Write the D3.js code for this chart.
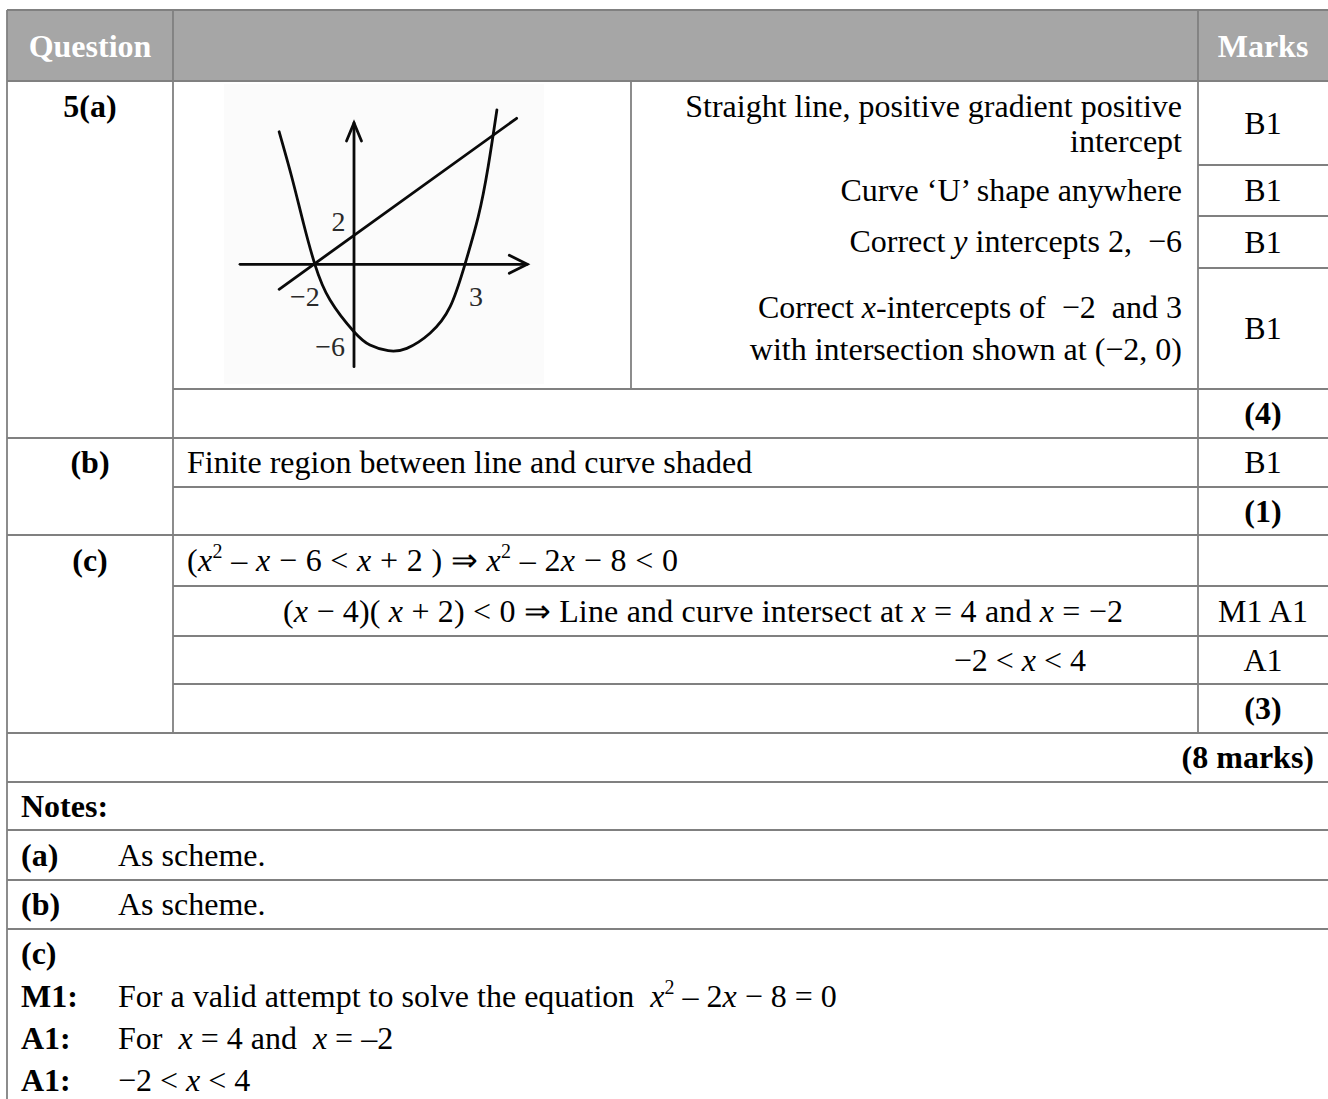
<!DOCTYPE html>
<html>
<head>
<meta charset="utf-8">
<script src="https://cdn.jsdelivr.net/npm/d3@7"></script>
<style>
  html, body { margin: 0; padding: 0; background: #fff; }
  svg text { white-space: pre; }
</style>
</head>
<body>
<svg id="chart"></svg>
<script>
var headers = ["Question", "Marks"];
var questionLabels = ["5(a)", "(b)", "(c)"];
var marksA = ["B1", "B1", "B1", "B1", "(4)"];
var marksB = ["B1", "(1)"];
var marksC = ["", "M1 A1", "A1", "(3)"];
var totalLabel = "(8 marks)";

// scheme lines, segments: [text, italic?, superscript?]
var schemeA = [
  [[["Straight line, positive gradient positive"]], [["intercept"]]],
  [[["Curve \u2018U\u2019 shape anywhere"]]],
  [[["Correct "], ["y", 1], [" intercepts 2,  \u22126"]]],
  [[["Correct "], ["x", 1], ["-intercepts of  \u22122  and 3"]], [["with intersection shown at (\u22122, 0)"]]]
];
var schemeB = [["Finite region between line and curve shaded"]];
var schemeC = [
  [["("], ["x", 1], ["2", 0, 1], [" \u2013 "], ["x", 1], [" \u2212 6 < "], ["x", 1], [" + 2 ) \u21d2 "], ["x", 1], ["2", 0, 1], [" \u2013 2"], ["x", 1], [" \u2212 8 < 0"]],
  [["("], ["x", 1], [" \u2212 4)( "], ["x", 1], [" + 2) < 0 \u21d2 Line and curve intersect at "], ["x", 1], [" = 4 and "], ["x", 1], [" = \u22122"]],
  [["\u22122 < "], ["x", 1], [" < 4"]]
];
var noteTags = ["(a)", "(b)"];
var noteTexts = ["As scheme.", "As scheme."];
var noteCTags = ["M1:", "A1:", "A1:"];
var noteCTexts = [
  [["For a valid attempt to solve the equation  "], ["x", 1], ["2", 0, 1], [" \u2013 2"], ["x", 1], [" \u2212 8 = 0"]],
  [["For  "], ["x", 1], [" = 4 and  "], ["x", 1], [" = \u20132"]],
  [["\u22122 < "], ["x", 1], [" < 4"]]
];

// sketch of y = x^2 - x - 6 and y = x + 2 (sketch units, not to scale)
var curveX = [-1.97, -1.64, -1.33, -1.03, -0.63, 0, 0.42, 0.9, 1.39, 2.0, 2.53, 2.92, 3.27, 3.53, 3.76];
var curveY = [12.05, 7.96, 3.73, 0, -3.25, -6.13, -7.34, -7.85, -7.64, -6.27, -3.85, 0, 4.33, 8.87, 14.03];
var lineX = [-1.97, 4.28];
var lineY = [-2.27, 13.27];
var axisXExtent = [-3.0, 4.56];
var axisYExtent = [-9.31, 12.85];
var sketchLabels = ["2", "\u22122", "3", "\u22126"];
var sketchLabelX = [-0.41, -1.29, 3.21, -0.63];
var sketchLabelY = [3.87, -2.95, -2.95, -7.43];

// ---- layout ----
var width = 1328, height = 1099;
var FONT = "'Liberation Serif', 'Times New Roman', serif";
var FS = 32;
var GRID = "#808080";
var L = 7, C1 = 173, C2 = 631, C3 = 1198, R = 1330;
var colQ = (L + C1) / 2, colM = (C3 + 1328) / 2;
var padL = 21;

var svg = d3.select("#chart").attr("width", width).attr("height", height)
  .style("font-family", FONT).style("font-size", FS + "px");

// row boundaries
var yTop = 10, yHead = 81;
var yA = [81, 165, 216, 268, 389, 438];
var yB = [438, 487, 535];
var yC = [535, 586, 636, 684, 733];
var yNotes = [733, 782, 830, 880, 929];

function mid(a, b) { return (a + b) / 2 + FS * 0.33; }

// header
svg.append("rect").attr("x", L).attr("y", yTop).attr("width", R - L).attr("height", yHead - yTop)
  .attr("fill", "#a6a6a6");

// faint background of the pasted sketch
svg.append("rect").attr("x", 224).attr("y", 84).attr("width", 320).attr("height", 300)
  .attr("fill", "#fbfbfb");

// grid lines
var hLines = [
  [yTop, L, R], [yHead, L, R],
  [165, C3, R], [216, C3, R], [268, C3, R],
  [389, C1, R], [438, L, R], [487, C1, R], [535, L, R],
  [586, C1, R], [636, C1, R], [684, C1, R], [733, L, R],
  [782, L, R], [830, L, R], [880, L, R], [929, L, R]
];
var vLines = [[L, yTop, height], [C1, yTop, 733], [C3, yTop, 733], [C2, yHead, 389]];
var grid = svg.append("g").attr("stroke", GRID).attr("stroke-width", 1.8);
grid.selectAll("line.h").data(hLines).enter().append("line").attr("class", "h")
  .attr("x1", d => d[1]).attr("x2", d => d[2]).attr("y1", d => d[0]).attr("y2", d => d[0]);
grid.selectAll("line.v").data(vLines).enter().append("line").attr("class", "v")
  .attr("x1", d => d[0]).attr("x2", d => d[0]).attr("y1", d => d[1]).attr("y2", d => d[2]);

// header labels
svg.selectAll("text.head").data(headers).enter().append("text").attr("class", "head")
  .attr("x", (d, i) => i === 0 ? colQ : colM).attr("y", 57)
  .attr("text-anchor", "middle").attr("fill", "#fff").attr("font-weight", "bold").text(d => d);

// rich text helper
function rich(sel, segs) {
  var up = false;
  segs.forEach(function(s) {
    var t = sel.append("tspan").text(s[0]);
    if (s[1]) t.attr("font-style", "italic");
    if (s[2]) { t.attr("dy", -13).attr("font-size", 20); up = true; }
    else if (up) { t.attr("dy", 13); up = false; }
  });
  return sel;
}

// question column
var qY = [117, mid(yB[0], yB[1]), mid(yC[0], yC[1])];
svg.selectAll("text.q").data(questionLabels).enter().append("text").attr("class", "q")
  .attr("x", colQ).attr("y", (d, i) => qY[i]).attr("text-anchor", "middle")
  .attr("font-weight", "bold").text(d => d);

// marks column
var marks = [];
marksA.forEach((m, i) => marks.push({ t: m, y: mid(yA[i], yA[i + 1]) }));
marksB.forEach((m, i) => marks.push({ t: m, y: mid(yB[i], yB[i + 1]) }));
marksC.forEach((m, i) => marks.push({ t: m, y: mid(yC[i], yC[i + 1]) }));
svg.selectAll("text.mk").data(marks).enter().append("text").attr("class", "mk")
  .attr("x", colM).attr("y", d => d.y).attr("text-anchor", "middle")
  .attr("font-weight", d => d.t.charAt(0) === "(" ? "bold" : "normal").text(d => d.t);

// part (a) scheme text, right aligned
var aBase = [[117, 152], [201], [252], [318, 360]];
schemeA.forEach(function(lines, i) {
  lines.forEach(function(segs, j) {
    rich(svg.append("text").attr("x", 1182).attr("y", aBase[i][j]).attr("text-anchor", "end"), segs);
  });
});

// part (b)
rich(svg.append("text").attr("x", 187).attr("y", mid(yB[0], yB[1])), schemeB);

// part (c)
rich(svg.append("text").attr("x", 187).attr("y", mid(yC[0], yC[1]))
  .attr("textLength", 491).attr("lengthAdjust", "spacing"), schemeC[0]);
rich(svg.append("text").attr("x", 283).attr("y", mid(yC[1], yC[2]))
  .attr("textLength", 840).attr("lengthAdjust", "spacing"), schemeC[1]);
rich(svg.append("text").attr("x", 1086).attr("y", mid(yC[2], yC[3])).attr("text-anchor", "end"), schemeC[2]);

// total
svg.append("text").attr("x", 1314).attr("y", mid(yNotes[0], yNotes[1])).attr("text-anchor", "end")
  .attr("font-weight", "bold").text(totalLabel);

// notes
svg.append("text").attr("x", padL).attr("y", mid(yNotes[1], yNotes[2])).attr("font-weight", "bold").text("Notes:");
noteTags.forEach(function(t, i) {
  var yy = mid(yNotes[i + 2], yNotes[i + 3]);
  svg.append("text").attr("x", padL).attr("y", yy).attr("font-weight", "bold").text(t);
  svg.append("text").attr("x", 118).attr("y", yy).text(noteTexts[i]);
});
svg.append("text").attr("x", padL).attr("y", 964).attr("font-weight", "bold").text("(c)");
var ncY = [1006.5, 1049, 1091];
noteCTags.forEach(function(t, i) {
  svg.append("text").attr("x", padL).attr("y", ncY[i]).attr("font-weight", "bold").text(t);
  rich(svg.append("text").attr("x", 118).attr("y", ncY[i]), noteCTexts[i]);
});

// ---- sketch ----
var sx = d3.scaleLinear().domain([-3, 4.6]).range([240, 528.8]);
var sy = d3.scaleLinear().domain([-9.5, 13]).range([368.8, 121.3]);
var sk = svg.append("g").attr("fill", "none").attr("stroke", "#0a0a0a").attr("stroke-width", 2.8)
  .attr("stroke-linecap", "round");

// axes with open arrowheads
var x0 = sx(axisXExtent[0]), x1 = sx(axisXExtent[1]), yAx = sy(0);
var y0 = sy(axisYExtent[0]), y1 = sy(axisYExtent[1]), xAx = sx(0);
sk.append("line").attr("x1", x0).attr("x2", x1).attr("y1", yAx).attr("y2", yAx);
sk.append("path").attr("d", "M" + (x1 - 18) + "," + (yAx - 9) + "L" + x1 + "," + yAx + "L" + (x1 - 18) + "," + (yAx + 9));
sk.append("line").attr("x1", xAx).attr("x2", xAx).attr("y1", y0).attr("y2", y1);
sk.append("path").attr("d", "M" + (xAx - 7.5) + "," + (y1 + 18) + "L" + xAx + "," + y1 + "L" + (xAx + 7.5) + "," + (y1 + 18));

var curvePts = curveX.map((v, i) => [v, curveY[i]]);
var linePts = lineX.map((v, i) => [v, lineY[i]]);
var gen = d3.line().x(d => sx(d[0])).y(d => sy(d[1]));
sk.append("path").attr("d", gen.curve(d3.curveNatural)(curvePts));
sk.append("path").attr("d", d3.line().x(d => sx(d[0])).y(d => sy(d[1]))(linePts));

svg.selectAll("text.sl").data(sketchLabels).enter().append("text").attr("class", "sl")
  .attr("x", (d, i) => sx(sketchLabelX[i])).attr("y", (d, i) => sy(sketchLabelY[i]))
  .attr("dy", "0.34em").attr("text-anchor", "middle").attr("font-size", 28).attr("fill", "#2a2a2a")
  .text(d => d);
</script>
</body>
</html>
